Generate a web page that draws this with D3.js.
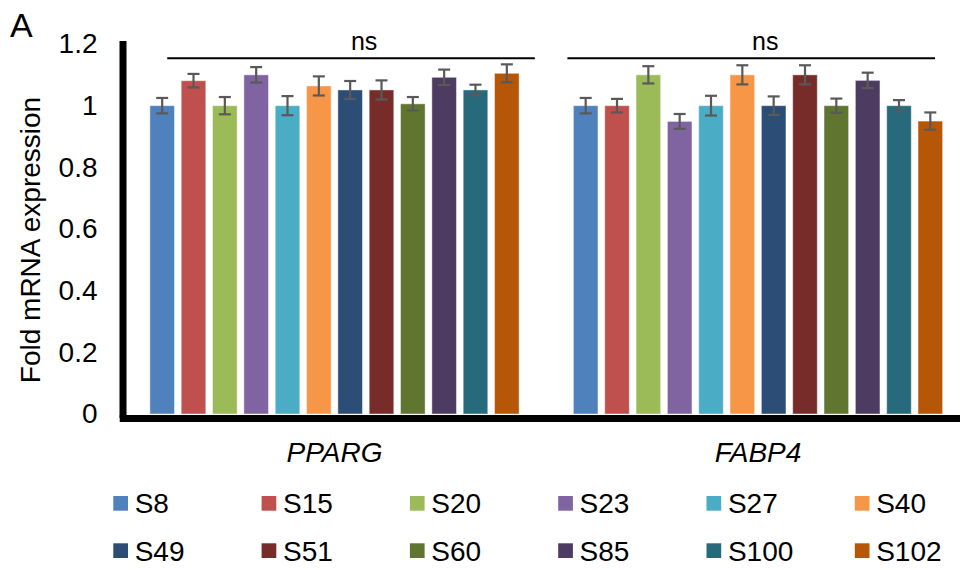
<!DOCTYPE html>
<html>
<head>
<meta charset="utf-8">
<script src="https://cdn.jsdelivr.net/npm/d3@7"></script>
<style>
  body { margin: 0; background: #fff; }
  svg text { font-family: "Liberation Sans", Arial, sans-serif; fill: #000; }
</style>
</head>
<body>
<div id="chart"></div>
<script>
// data
const genes = ["PPARG", "FABP4"];
const samples = ["S8", "S15", "S20", "S23", "S27", "S40", "S49", "S51", "S60", "S85", "S100", "S102"];
const colors = ["#4F81BD", "#C0504D", "#9BBB59", "#8064A2", "#4BACC6", "#F79646",
                "#2C4D75", "#772C2A", "#5F7530", "#4D3B62", "#276A7C", "#B65708"];
const ppargMean = [1.0, 1.081, 1.0, 1.100, 1.0, 1.064, 1.051, 1.051, 1.006, 1.092, 1.051, 1.105];
const ppargErr  = [0.025, 0.022, 0.028, 0.025, 0.031, 0.031, 0.029, 0.031, 0.022, 0.025, 0.017, 0.029];
const fabp4Mean = [1.0, 1.0, 1.100, 0.949, 1.0, 1.100, 1.0, 1.100, 1.0, 1.082, 1.0, 0.950];
const fabp4Err  = [0.025, 0.022, 0.028, 0.024, 0.032, 0.031, 0.030, 0.031, 0.023, 0.025, 0.018, 0.028];
const yTicks = [0, 0.2, 0.4, 0.6, 0.8, 1, 1.2];
// significance brackets: fraction of the gene band covered, label position
const sigMarks = [
  {gene: "PPARG", text: "ns", level: 1.154, from: 0.105, to: 0.973, at: 0.570},
  {gene: "FABP4", text: "ns", level: 1.154, from: 0.050, to: 0.918, at: 0.517}
];

const width = 960, height = 570;

const svg = d3.select("#chart").append("svg")
  .attr("width", width)
  .attr("height", height);

const y = d3.scaleLinear().domain([0, 1.2]).range([414, 44]);

const x0 = d3.scaleBand()
  .domain(genes)
  .range([122.75, 969.75])
  .padding(0);

const x1 = d3.scaleBand()
  .domain(samples)
  .range([0, x0.bandwidth()])
  .paddingInner(0.215)
  .paddingOuter(0.866);

const rows = genes.map((g, gi) => ({
  gene: g,
  values: samples.map((s, i) => ({
    sample: s,
    color: colors[i],
    mean: gi === 0 ? ppargMean[i] : fabp4Mean[i],
    err: gi === 0 ? ppargErr[i] : fabp4Err[i]
  }))
}));

// bars
const groups = svg.append("g").selectAll("g")
  .data(rows)
  .join("g")
  .attr("transform", d => `translate(${x0(d.gene)},0)`);

groups.selectAll("rect")
  .data(d => d.values)
  .join("rect")
  .attr("x", d => x1(d.sample))
  .attr("y", d => y(d.mean))
  .attr("width", x1.bandwidth())
  .attr("height", d => y(0) - y(d.mean))
  .attr("fill", d => d.color)
  .attr("stroke", "#fff")
  .attr("stroke-opacity", 0.45)
  .attr("stroke-width", 1);

// error bars
const capW = 12;
const eb = groups.selectAll("g.err")
  .data(d => d.values)
  .join("g")
  .attr("class", "err")
  .attr("stroke", "#595959")
  .attr("stroke-width", 2.2);

eb.append("line")
  .attr("x1", d => x1(d.sample) + x1.bandwidth() / 2)
  .attr("x2", d => x1(d.sample) + x1.bandwidth() / 2)
  .attr("y1", d => y(d.mean + d.err))
  .attr("y2", d => y(d.mean - d.err));
eb.append("line")
  .attr("x1", d => x1(d.sample) + x1.bandwidth() / 2 - capW / 2)
  .attr("x2", d => x1(d.sample) + x1.bandwidth() / 2 + capW / 2)
  .attr("y1", d => y(d.mean + d.err))
  .attr("y2", d => y(d.mean + d.err));
eb.append("line")
  .attr("x1", d => x1(d.sample) + x1.bandwidth() / 2 - capW / 2)
  .attr("x2", d => x1(d.sample) + x1.bandwidth() / 2 + capW / 2)
  .attr("y1", d => y(d.mean - d.err))
  .attr("y2", d => y(d.mean - d.err));

// x axis (gene names)
const xAxis = svg.append("g")
  .attr("transform", "translate(0,418)")
  .call(d3.axisBottom(x0).tickSize(0).tickPadding(24));
xAxis.select(".domain")
  .attr("stroke", "#000")
  .attr("stroke-width", 7)
  .attr("stroke-linecap", "square");
xAxis.selectAll("text")
  .style("font-size", "28px")
  .style("font-style", "italic");

// y axis
const yAxis = svg.append("g")
  .attr("transform", "translate(122.5,0)")
  .call(d3.axisLeft(y)
    .tickValues(yTicks)
    .tickSize(0)
    .tickSizeOuter(0)
    .tickPadding(25)
    .tickFormat(d => (d === 0 || d === 1) ? String(d) : d.toFixed(1)));
yAxis.select(".domain")
  .attr("stroke", "#000")
  .attr("stroke-width", 7)
  .attr("stroke-linecap", "square");
yAxis.selectAll("text")
  .style("font-size", "28px");

// y title
svg.append("text")
  .attr("transform", "translate(40,240) rotate(-90)")
  .attr("text-anchor", "middle")
  .style("font-size", "28px")
  .text("Fold mRNA expression");

// panel letter
svg.append("text")
  .attr("x", 10)
  .attr("y", 37)
  .style("font-size", "34px")
  .text("A");

// significance marks
const sig = svg.append("g").selectAll("g")
  .data(sigMarks)
  .join("g");
sig.append("line")
  .attr("x1", d => x0(d.gene) + d.from * x0.bandwidth())
  .attr("x2", d => x0(d.gene) + d.to * x0.bandwidth())
  .attr("y1", d => y(d.level))
  .attr("y2", d => y(d.level))
  .attr("stroke", "#000")
  .attr("stroke-width", 2);
sig.append("text")
  .attr("x", d => x0(d.gene) + d.at * x0.bandwidth())
  .attr("y", d => y(d.level) - 8)
  .attr("text-anchor", "middle")
  .style("font-size", "25px")
  .text(d => d.text);

// legend, 6 columns x 2 rows
const legend = svg.append("g").selectAll("g")
  .data(samples)
  .join("g")
  .attr("transform", (d, i) => `translate(${113.3 + (i % 6) * 148.3},${496 + Math.floor(i / 6) * 47.3})`);
legend.append("rect")
  .attr("width", 14.7)
  .attr("height", 14.7)
  .attr("fill", (d, i) => colors[i]);
legend.append("text")
  .attr("x", 21.4)
  .attr("y", 17.3)
  .style("font-size", "28px")
  .text(d => d);
</script>
</body>
</html>
